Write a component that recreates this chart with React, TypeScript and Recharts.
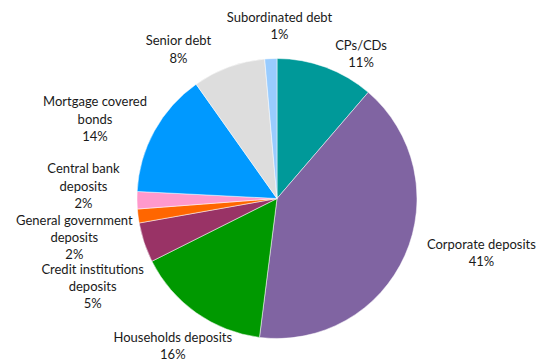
import React from "react";
import { PieChart, Pie, Cell } from "recharts";

const categories = [
  "CPs/CDs",
  "Corporate deposits",
  "Households deposits",
  "Credit institutions deposits",
  "General government deposits",
  "Central bank deposits",
  "Mortgage covered bonds",
  "Senior debt",
  "Subordinated debt",
];
const shares = [11.3, 40.7, 15.6, 4.6, 1.6, 2.0, 14.4, 8.4, 1.4];
const labelLines = [
  ["CPs/CDs"],
  ["Corporate deposits"],
  ["Households deposits"],
  ["Credit institutions", "deposits"],
  ["General government", "deposits"],
  ["Central bank", "deposits"],
  ["Mortgage covered", "bonds"],
  ["Senior debt"],
  ["Subordinated debt"],
];

const colors = ["#009999", "#8064A2", "#009900", "#993366", "#FF6600", "#FF99CC", "#0099FF", "#DDDDDD", "#99CCFF"];
const labelNudge: [number, number][] = [
  [25, 14], [49, -15], [-6, 8], [-23, 34], [-34, 17], [-23.5, -15], [-33, 2], [-40, 10], [10, -3],
];

const data = categories.map((name, i) => ({ name, value: shares[i] }));
const total = shares.reduce((a, b) => a + b, 0);
const RAD = Math.PI / 180;
const LH = 17.2;

const renderLabel = (props: any) => {
  const { cx, cy, midAngle, outerRadius, index, value } = props;
  const r = outerRadius + 30;
  const bx = cx + r * Math.cos(-midAngle * RAD);
  const by = cy + r * Math.sin(-midAngle * RAD);
  const x = bx + labelNudge[index][0];
  const y = by + labelNudge[index][1];
  const lines = [...labelLines[index], `${Math.round((value / total) * 100)}%`];
  const y0 = y - ((lines.length - 1) * LH) / 2;
  return (
    <text
      x={x}
      y={y0}
      textAnchor="middle"
      dominantBaseline="central"
      fill="#1a1a1a"
      fontSize={13}
      fontFamily="Lato, 'Noto Sans', sans-serif"
    >
      {lines.map((l, k) => (
        <tspan key={k} x={x} y={y0 + k * LH} dominantBaseline="central">
          {l}
        </tspan>
      ))}
    </text>
  );
};

export default function App() {
  return (
    <div style={{ position: "absolute", left: 0, top: 0, width: 541, height: 360, background: "#fff" }}>
      <PieChart width={541} height={360} margin={{ top: 0, right: 0, bottom: 0, left: 0 }}>
        <Pie
          data={data}
          dataKey="value"
          nameKey="name"
          cx={277}
          cy={198.5}
          outerRadius={140}
          startAngle={90}
          endAngle={-270}
          isAnimationActive={false}
          label={renderLabel}
          labelLine={false}
          stroke="#ffffff"
          strokeWidth={0.5}
        >
          {data.map((d, i) => (
            <Cell key={d.name} fill={colors[i]} />
          ))}
        </Pie>
      </PieChart>
    </div>
  );
}
